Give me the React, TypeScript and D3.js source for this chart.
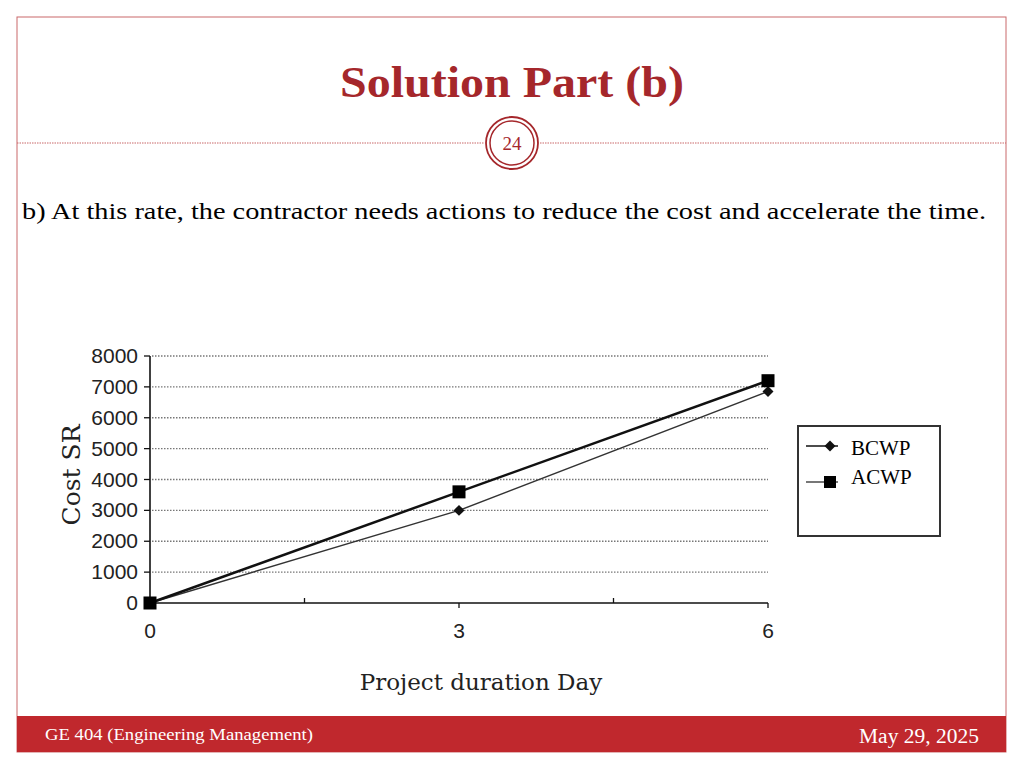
import React from "react";
import * as d3 from "d3";

const days = [0, 3, 6];
const bcwp = [0, 3000, 6850];
const acwp = [0, 3600, 7200];
const yTicks = [0, 1000, 2000, 3000, 4000, 5000, 6000, 7000, 8000];
const xTickLabels = ["0", "3", "6"];
const seriesNames = ["BCWP", "ACWP"];

const RED = "#C0282D";
const TITLE = "#A5272B";

const squareDiamond = {
  draw(ctx: any, size: number) {
    const r = Math.sqrt(size / 2);
    ctx.moveTo(0, -r);
    ctx.lineTo(r, 0);
    ctx.lineTo(0, r);
    ctx.lineTo(-r, 0);
    ctx.closePath();
  },
};

export default function App() {
  const x = d3.scaleLinear().domain([0, 6]).range([150, 768]);
  const y = d3.scaleLinear().domain([0, 8000]).range([603, 356]);
  const line = d3
    .line<number>()
    .x((_, i) => x(days[i]))
    .y((v) => y(v));
  const diamond = d3.symbol().type(squareDiamond as any).size(60)();

  return (
    <svg
      width={1024}
      height={768}
      style={{ position: "absolute", left: 0, top: 0, background: "#fff" }}
    >
      {/* slide frame */}
      <rect x={17} y={17} width={989} height={735} fill="none" stroke="#C9686A" strokeWidth={1} />
      <text
        x={340}
        y={97}
        fontFamily="Liberation Serif"
        fontWeight="bold"
        fontSize={45}
        fill={TITLE}
        textLength={344}
        lengthAdjust="spacingAndGlyphs"
      >
        Solution Part (b)
      </text>
      <line x1={17} x2={484} y1={143} y2={143} stroke="#C9686A" strokeWidth={1.2} strokeDasharray="1.5,1" />
      <line x1={540} x2={1006} y1={143} y2={143} stroke="#C9686A" strokeWidth={1.2} strokeDasharray="1.5,1" />
      <circle cx={512} cy={143} r={26} fill="#fff" stroke={TITLE} strokeWidth={1.8} />
      <circle cx={512} cy={143} r={22} fill="#fff" stroke={TITLE} strokeWidth={1.5} />
      <text x={512} y={150} textAnchor="middle" fontFamily="Liberation Serif" fontSize={19} fill={TITLE}>
        24
      </text>
      <text
        x={22}
        y={219}
        fontFamily="Liberation Serif"
        fontSize={24}
        fill="#000"
        textLength={964}
        lengthAdjust="spacingAndGlyphs"
      >
        b) At this rate, the contractor needs actions to reduce the cost and accelerate the time.
      </text>

      {/* chart */}
      {yTicks.slice(1).map((t) => (
        <line
          key={"g" + t}
          x1={152}
          x2={768}
          y1={y(t)}
          y2={y(t)}
          stroke="#777"
          strokeWidth={1.4}
          strokeDasharray="1.5,1.5"
        />
      ))}
      <line x1={150} x2={150} y1={356} y2={603} stroke="#111" strokeWidth={1.6} />
      <line x1={150} x2={768} y1={603} y2={603} stroke="#111" strokeWidth={1.6} />
      {yTicks.map((t) => (
        <g key={"y" + t}>
          <line x1={144} x2={150} y1={y(t)} y2={y(t)} stroke="#111" strokeWidth={1.3} />
          <text
            x={138}
            y={y(t) + 7}
            textAnchor="end"
            fontFamily="Liberation Sans"
            fontSize={21}
            fill="#222"
          >
            {t}
          </text>
        </g>
      ))}
      {days.map((d, i) => (
        <g key={"x" + d}>
          <line x1={x(d)} x2={x(d)} y1={603} y2={608} stroke="#111" strokeWidth={1.3} />
          <text x={x(d)} y={638} textAnchor="middle" fontFamily="Liberation Sans" fontSize={21} fill="#222">
            {xTickLabels[i]}
          </text>
        </g>
      ))}
      {[1.5, 4.5].map((d) => (
        <line key={"m" + d} x1={x(d)} x2={x(d)} y1={598} y2={603} stroke="#111" strokeWidth={1.3} />
      ))}
      <text
        transform={`translate(80,475) rotate(-90)`}
        textAnchor="middle"
        fontFamily="DejaVu Serif"
        fontSize={25}
        fill="#222"
      >
        Cost SR
      </text>
      <text x={481} y={690} textAnchor="middle" fontFamily="DejaVu Serif" fontSize={23} fill="#222">
        Project duration Day
      </text>

      <path d={line(bcwp) || ""} fill="none" stroke="#333" strokeWidth={1.5} />
      <path d={line(acwp) || ""} fill="none" stroke="#111" strokeWidth={2.5} />
      {bcwp.map((v, i) => (
        <path key={"d" + i} d={diamond || ""} transform={`translate(${x(days[i])},${y(v)})`} fill="#111" />
      ))}
      {acwp.map((v, i) => (
        <rect key={"s" + i} x={x(days[i]) - 6.5} y={y(v) - 6.5} width={13} height={13} fill="#000" />
      ))}

      {/* legend */}
      <rect x={798} y={426} width={142} height={110} fill="#fff" stroke="#333" strokeWidth={2} />
      <line x1={806} x2={838} y1={446} y2={446} stroke="#111" strokeWidth={1.5} />
      <path d={diamond || ""} transform="translate(830,446)" fill="#111" />
      <text x={851} y={455} fontFamily="Liberation Serif" fontSize={21} fill="#000">
        {seriesNames[0]}
      </text>
      <line x1={806} x2={838} y1={482} y2={482} stroke="#777" strokeWidth={2} />
      <rect x={824} y={476} width={12} height={12} fill="#000" />
      <text x={851} y={484} fontFamily="Liberation Serif" fontSize={21} fill="#000">
        {seriesNames[1]}
      </text>

      {/* footer */}
      <rect x={17} y={716} width={989} height={36} fill={RED} />
      <text
        x={45}
        y={740}
        fontFamily="Liberation Serif"
        fontSize={17}
        fill="#fff"
        textLength={268}
        lengthAdjust="spacingAndGlyphs"
      >
        GE 404 (Engineering Management)
      </text>
      <text
        x={859}
        y={743}
        fontFamily="Liberation Serif"
        fontSize={20}
        fill="#fff"
        textLength={120}
        lengthAdjust="spacingAndGlyphs"
      >
        May 29, 2025
      </text>
    </svg>
  );
}
